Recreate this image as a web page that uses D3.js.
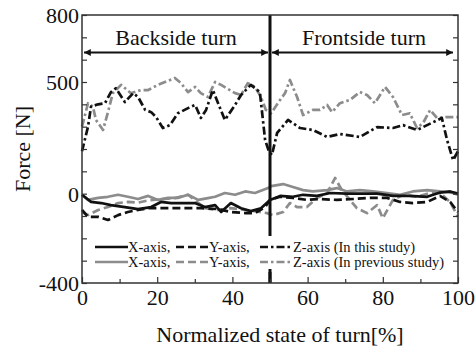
<!DOCTYPE html>
<html>
<head>
<meta charset="utf-8">
<script src="https://cdn.jsdelivr.net/npm/d3@7"></script>
<style>
  html, body { margin: 0; padding: 0; background: #fff; }
  svg { display: block; font-family: "Liberation Serif", "DejaVu Serif", serif; }
</style>
</head>
<body>
<div id="chart"></div>
<script>
// [% of turn, force N]
const xThis = [[0,-5],[2.4,-37],[5.1,-42],[7.7,-51],[11.4,-60],[14.9,-69],[18.4,-60],[21,-37],[23.7,-42],[27.4,-42],[30,-42],[32.7,-60],[35.4,-51],[37,-82],[39.6,-42],[42.3,-65],[44.9,-78],[47.6,-65],[50,-28],[52.7,-10],[56.1,-14],[58.8,-5],[62.5,-10],[66,3],[70.5,0],[73.9,0],[78.5,0],[82.7,-10],[87.2,-10],[91.8,-14],[95.2,5],[97.9,10],[100,0]];
const yThis = [[0,-73],[1.6,-104],[4.3,-104],[6.9,-118],[9.6,-96],[12.2,-82],[14.9,-73],[17.6,-65],[21,-65],[24.7,-65],[28.2,-65],[31.6,-65],[36.2,-69],[39.6,-82],[43.4,-87],[46,-87],[48.7,-60],[50,-28],[52.7,-14],[56.1,-19],[59.8,-28],[63.3,-24],[67.8,-28],[72.1,-24],[76.6,-19],[81.1,-19],[84.6,-37],[88,-42],[91.8,-37],[95.2,-10],[97.9,-37],[100,-82]];
const zThis = [[0,190],[1.6,300],[2.4,390],[4.3,400],[6.1,405],[7.7,455],[9,472],[11.4,410],[13.6,450],[14.9,433],[16.8,375],[18.4,365],[19.7,343],[21.5,294],[23.4,307],[25.5,360],[28.2,383],[30.1,397],[31.6,339],[33,375],[34.8,464],[36.2,405],[38,330],[40.7,397],[42.3,442],[44.9,487],[47.3,455],[48.7,240],[49.7,190],[50.5,173],[51.9,272],[54.8,330],[58,294],[61.4,285],[65.2,254],[68.6,267],[73.9,254],[78.5,298],[82.7,294],[85.4,307],[89.1,285],[93.4,320],[95.7,339],[97.1,240],[98.7,150],[100,190]];
const xPrev = [[0,-5],[1.6,-28],[4.3,-19],[6.9,-14],[9.6,-5],[12.2,-14],[14.9,-24],[17.6,-10],[20.2,-28],[22.9,-19],[25.5,-19],[28.2,-5],[30.9,-28],[33.5,-20],[35.4,-14],[38,3],[40.7,-5],[43.4,10],[46,3],[49.5,25],[50.3,34],[53.5,43],[56.1,30],[58.8,16],[61.4,10],[65.2,16],[67.8,25],[70.5,10],[73.9,16],[77.4,10],[81.1,3],[84.6,-5],[88,10],[91.8,16],[95.2,10],[98.7,3],[100,-5]];
const yPrev = [[0,-82],[1.6,-96],[4.3,-73],[6.9,-60],[9.6,-42],[12.2,-37],[14.9,-40],[17.6,-30],[21,-25],[24.7,-20],[28.2,-5],[32.7,-65],[36.2,-73],[39.6,-65],[43.4,-73],[46.5,-80],[49.2,-87],[50.8,-96],[53.5,-82],[55.3,-42],[57.2,-60],[59.8,-60],[62.5,-19],[65.2,3],[67.3,70],[69.1,16],[71.3,-28],[73.1,-65],[75.8,-87],[78.5,-51],[80,-110],[82.7,-28],[85.4,-5],[89.1,-14],[92.6,3],[95.2,3],[97.9,-37],[100,-104]];
const zPrev = [[0,300],[1.6,405],[2.9,390],[3.7,330],[5.6,285],[6.9,365],[8.2,450],[10.4,487],[13,450],[15.7,464],[17.6,464],[20.2,487],[24.7,518],[26.3,495],[28.2,455],[30.1,478],[31.6,450],[33.5,433],[35.4,500],[37,487],[40.7,450],[42.3,442],[44.1,495],[46,478],[47.6,433],[48.9,375],[50.3,360],[52.7,420],[54,450],[55.3,509],[57.2,433],[58.8,352],[61.4,375],[63.3,375],[65.2,397],[66.5,365],[68.6,405],[71.3,420],[73.9,455],[75.8,442],[77.9,405],[80.6,478],[82.7,433],[85.1,352],[87.2,360],[89.1,294],[90.7,316],[92.6,375],[94.4,339],[97.1,343],[100,343]];

const yLabeled = [800, 500, 0, -400];
const xLabeled = [0, 20, 40, 60, 80, 100];
const phases = [{name: "Backside turn", from: 0, to: 50}, {name: "Frontside turn", from: 50, to: 100}];

const W = 476, H = 349;
const margin = {top: 15, right: 18, bottom: 66, left: 82};
const BLACK = "#111", GRAY = "#8c8c8c";
const SOLID = null, DASH = "8,4", DASHDOT = "8,3,2.5,3";

const series = [
  {data: xPrev, color: GRAY, dash: SOLID},
  {data: yPrev, color: GRAY, dash: DASH},
  {data: zPrev, color: GRAY, dash: DASHDOT},
  {data: xThis, color: BLACK, dash: SOLID},
  {data: yThis, color: BLACK, dash: DASH},
  {data: zThis, color: BLACK, dash: DASHDOT}
];

const xScale = d3.scaleLinear().domain([0, 100]).range([margin.left, W - margin.right]);
const yScale = d3.scaleLinear().domain([-400, 800]).range([H - margin.bottom, margin.top]);

const svg = d3.select("#chart").append("svg")
  .attr("width", W).attr("height", H);

svg.append("defs").append("marker")
  .attr("id", "arrow")
  .attr("viewBox", "0 0 10 10")
  .attr("refX", 10).attr("refY", 5)
  .attr("markerWidth", 5).attr("markerHeight", 3.4)
  .attr("orient", "auto-start-reverse")
  .append("path").attr("d", "M0,0L10,5L0,10Z").attr("fill", BLACK);

const line = d3.line().x(d => xScale(d[0])).y(d => yScale(d[1]));

svg.selectAll("path.series").data(series)
  .join("path")
  .classed("series", true)
  .attr("d", d => line(d.data))
  .attr("fill", "none")
  .attr("stroke", d => d.color)
  .attr("stroke-width", 2.7)
  .attr("stroke-linejoin", "round")
  .attr("stroke-dasharray", d => d.dash);

// phase divider
svg.append("line")
  .attr("x1", xScale(50)).attr("x2", xScale(50))
  .attr("y1", yScale(800)).attr("y2", yScale(-400))
  .attr("stroke", BLACK).attr("stroke-width", 3);

// phase arrows + labels
const ph = svg.selectAll("g.phase").data(phases).join("g").classed("phase", true);
ph.append("line")
  .attr("x1", d => xScale(d.from) + 2)
  .attr("x2", d => xScale(d.to) - (d.to === 100 ? 5 : 2))
  .attr("y1", yScale(632)).attr("y2", yScale(632))
  .attr("stroke", BLACK).attr("stroke-width", 2)
  .attr("marker-start", "url(#arrow)")
  .attr("marker-end", "url(#arrow)");
ph.append("text")
  .attr("x", d => xScale((d.from + d.to) / 2))
  .attr("y", yScale(665))
  .attr("text-anchor", "middle")
  .attr("font-size", 22)
  .attr("fill", BLACK)
  .text(d => d.name);

// legend
const legendRows = [
  {color: BLACK, labels: ["X-axis,", "Y-axis,", "Z-axis (In this study)"]},
  {color: GRAY, labels: ["X-axis,", "Y-axis,", "Z-axis (In previous study)"]}
];
const dashes = [SOLID, DASH, DASHDOT];
const sampleX = [95, 176, 260];
const sampleW = 33;
svg.append("rect")
  .attr("x", 90).attr("y", 236).attr("width", 355).attr("height", 33)
  .attr("fill", "#fff");
legendRows.forEach((row, r) => {
  const y = 247 + r * 15;
  row.labels.forEach((lab, i) => {
    svg.append("line")
      .attr("x1", sampleX[i]).attr("x2", sampleX[i] + sampleW)
      .attr("y1", y).attr("y2", y)
      .attr("stroke", row.color).attr("stroke-width", 2.7)
      .attr("stroke-dasharray", dashes[i]);
    svg.append("text")
      .attr("x", sampleX[i] + sampleW).attr("y", y + 5)
      .attr("font-size", 14.5).attr("fill", BLACK)
      .text(lab);
  });
});

// bottom stub of divider below legend
svg.append("line")
  .attr("x1", xScale(50)).attr("x2", xScale(50))
  .attr("y1", 272).attr("y2", yScale(-400))
  .attr("stroke", BLACK).attr("stroke-width", 3);

// axes
const yTicks = d3.range(-400, 801, 100);
const xTicks = d3.range(0, 101, 10);

const axisStyle = g => {
  g.select(".domain").remove();
  g.selectAll("line").attr("stroke", "#333").attr("stroke-width", 1.2);
  g.selectAll("text").attr("font-size", 22).attr("fill", BLACK)
    .attr("font-family", "Liberation Serif, serif");
};

svg.append("g")
  .attr("transform", `translate(${margin.left},0)`)
  .call(d3.axisLeft(yScale).tickValues(yTicks).tickSize(-5).tickPadding(3)
    .tickFormat(d => yLabeled.includes(d) ? d : ""))
  .call(axisStyle)
  .selectAll("text").attr("dy", "0.36em");

svg.append("g")
  .attr("transform", `translate(${W - margin.right},0)`)
  .call(d3.axisRight(yScale).tickValues(yTicks).tickSize(-5).tickFormat(""))
  .call(axisStyle);

const xAxis = svg.append("g")
  .attr("transform", `translate(0,${H - margin.bottom})`)
  .call(d3.axisBottom(xScale).tickValues(xTicks).tickSize(-4).tickPadding(6)
    .tickFormat(d => xLabeled.includes(d) ? d : ""))
  .call(axisStyle);
xAxis.selectAll(".tick line").attr("y2", d => xLabeled.includes(d) ? -6 : -4);

// frame
svg.append("rect")
  .attr("x", margin.left).attr("y", margin.top)
  .attr("width", W - margin.left - margin.right)
  .attr("height", H - margin.top - margin.bottom)
  .attr("fill", "none").attr("stroke", "#333").attr("stroke-width", 1.5);

// axis titles
svg.append("text")
  .attr("x", xScale(50) + 10).attr("y", 342)
  .attr("text-anchor", "middle").attr("font-size", 22).attr("fill", BLACK)
  .text("Normalized state of turn[%]");

svg.append("text")
  .attr("transform", `translate(30,${yScale(200)}) rotate(-90)`)
  .attr("text-anchor", "middle").attr("font-size", 22).attr("fill", BLACK)
  .text("Force [N]");
</script>
</body>
</html>
